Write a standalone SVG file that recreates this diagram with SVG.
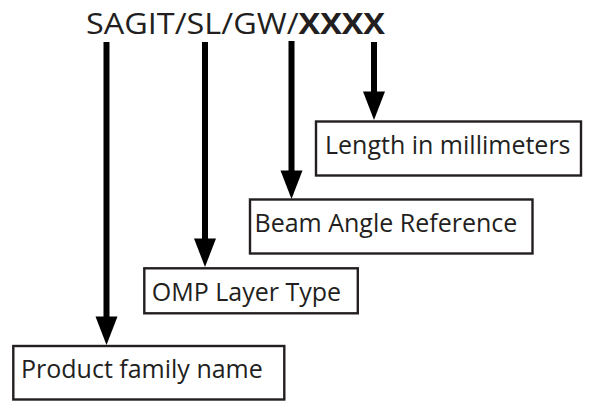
<svg xmlns="http://www.w3.org/2000/svg" width="590" height="401" viewBox="0 0 590 401">
<style>
.box{fill:#fff;stroke:#231f20;stroke-width:2.4}
.lbl{font-family:"Open Sans","Noto Sans","Liberation Sans",sans-serif;font-size:25px;fill:#231f20}
.title{font-family:"Open Sans","Noto Sans","Liberation Sans",sans-serif;font-size:28.5px;fill:#231f20}
.arr{stroke:#000;stroke-width:6;fill:none}
.head{fill:#000;stroke:none}
</style>
<text class="title" x="86" y="34.3" textLength="299" lengthAdjust="spacingAndGlyphs">SAGIT/SL/GW/<tspan font-weight="bold">XXXX</tspan></text>
<g id="connectors">
<line class="arr" x1="106.5" y1="42" x2="106.5" y2="320"/>
<polygon class="head" points="95.5,316.5 117.5,316.5 106.5,345"/>
<line class="arr" x1="205" y1="42" x2="205" y2="242"/>
<polygon class="head" points="194,238.5 216,238.5 205,267"/>
<line class="arr" x1="291.5" y1="41" x2="291.5" y2="174"/>
<polygon class="head" points="280.5,170.5 302.5,170.5 291.5,199"/>
<line class="arr" x1="374" y1="42" x2="374" y2="95"/>
<polygon class="head" points="363,91.5 385,91.5 374,120"/>
</g>
<g id="node-length">
<rect class="box" x="316" y="121.5" width="265" height="54"/>
<text class="lbl" x="325" y="154.3">Length in millimeters</text>
</g>
<g id="node-beam">
<rect class="box" x="250" y="199.5" width="282.5" height="54"/>
<text class="lbl" x="254.5" y="231.7">Beam Angle Reference</text>
</g>
<g id="node-omp">
<rect class="box" x="144.3" y="268.3" width="213.5" height="45"/>
<text class="lbl" x="151.8" y="300.8">OMP Layer Type</text>
</g>
<g id="node-product">
<rect class="box" x="13.3" y="346" width="271" height="53.5"/>
<text class="lbl" x="21" y="378.3">Product family name</text>
</g>
</svg>
